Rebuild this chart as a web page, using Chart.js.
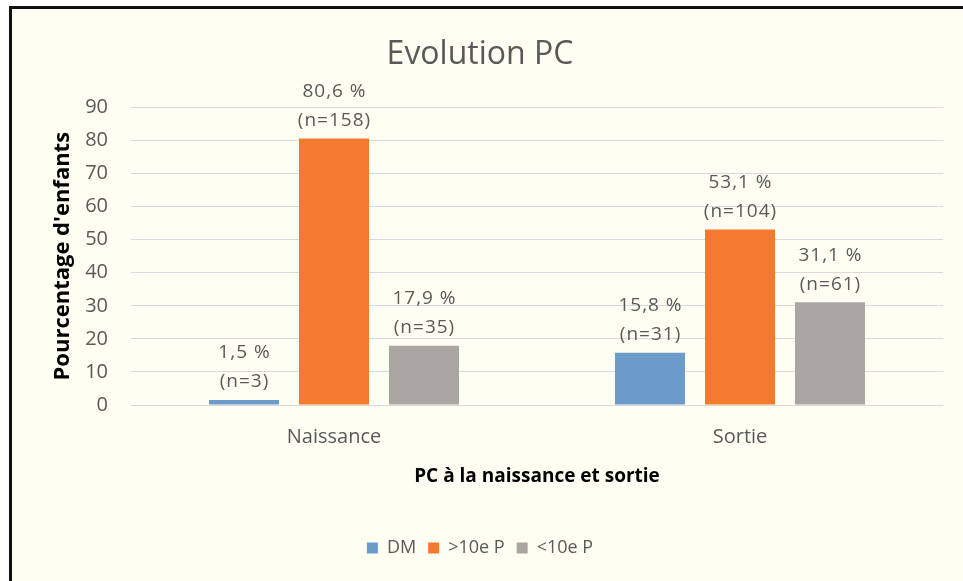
<!DOCTYPE html>
<html><head><meta charset="utf-8">
<script src="https://cdn.jsdelivr.net/npm/chart.js@4"></script>
<style>
html,body{margin:0;padding:0;background:#fff;overflow:hidden;width:963px;height:581px}
#frame{position:absolute;left:9px;top:6px;width:1000px;height:620px;border-top:3px solid #111;border-left:3px solid #111;background:#FFFEF3}
#wrap{position:absolute;left:5px;top:0;width:926px;height:572px}
</style></head><body>
<div id="frame"><div id="wrap"><canvas id="c"></canvas></div></div>
<script>
const categories = ['Naissance', 'Sortie'];
const seriesNames = ['DM', '>10e P', '<10e P'];
const dmValues = [1.5, 15.8];
const supValues = [80.6, 53.1];
const infValues = [17.9, 31.1];
const dmCounts = [3, 31];
const supCounts = [158, 104];
const infCounts = [35, 61];
const yTicks = [0, 10, 20, 30, 40, 50, 60, 70, 80, 90];

const colors = ['#6A9BC9', '#F47A30', '#AAA6A2'];
const seriesValues = [dmValues, supValues, infValues];
const seriesCounts = [dmCounts, supCounts, infCounts];
const TXT = '#595959';

const labelPlugin = {
  id: 'barLabels',
  afterDatasetsDraw(chart) {
    const ctx = chart.ctx;
    ctx.save();
    ctx.font = '19px "Open Sans"';
    ctx.fillStyle = TXT;
    ctx.textAlign = 'center';
    ctx.textBaseline = 'middle';
    try { ctx.letterSpacing = '1px'; } catch (e) {}
    chart.data.datasets.forEach((ds, di) => {
      const meta = chart.getDatasetMeta(di);
      meta.data.forEach((bar, i) => {
        const v = ds.data[i];
        const l1 = v.toFixed(1).replace('.', ',') + ' %';
        const l2 = '(n=' + seriesCounts[di][i] + ')';
        ctx.fillText(l2, bar.x + 0.5, bar.y - 18);
        ctx.fillText(l1, bar.x + 0.5, bar.y - 47);
      });
    });
    ctx.restore();
  }
};

new Chart(document.getElementById('c'), {
  type: 'bar',
  data: {
    labels: categories,
    datasets: seriesNames.map((n, i) => ({
      label: n,
      data: seriesValues[i],
      backgroundColor: colors[i],
      borderWidth: 0,
      categoryPercentage: 0.665,
      barPercentage: 0.778
    }))
  },
  plugins: [labelPlugin],
  options: {
    responsive: true,
    maintainAspectRatio: false,
    animation: false,
    layout: { padding: { left: 0, right: 0, top: 0, bottom: 14 } },
    plugins: {
      title: {
        display: true, text: 'Evolution PC', color: TXT,
        font: { family: 'Open Sans', size: 32, weight: 'normal' },
        padding: { top: 27, bottom: 33 }
      },
      legend: {
        position: 'bottom',
        labels: {
          boxWidth: 11, boxHeight: 11, padding: 12, color: TXT,
          font: { family: 'Open Sans', size: 18 }
        }
      },
      tooltip: { enabled: false }
    },
    scales: {
      x: {
        grid: { display: false },
        border: { display: false },
        afterFit(scale) { scale.height = 122; },
        ticks: { color: TXT, font: { family: 'Open Sans', size: 20 }, padding: 12 },
        title: {
          display: true, text: 'PC à la naissance et sortie', color: '#000',
          font: { family: 'Open Sans', size: 19, weight: 'bold' },
          padding: { top: 10, bottom: 39 }
        }
      },
      y: {
        min: 0, max: 90,
        afterBuildTicks(scale) { scale.ticks = yTicks.map(v => ({ value: v })); },
        afterFit(scale) { scale.width = 114; },
        grid: { color: '#D9D9D9', drawTicks: false },
        border: { display: false },
        ticks: { color: TXT, font: { family: 'Open Sans', size: 20 }, padding: 23 },
        title: {
          display: true, text: "Pourcentage d'enfants", color: '#000',
          font: { family: 'Open Sans', size: 22, weight: 'bold' },
          padding: { top: 33, bottom: 10 }
        }
      }
    }
  }
});
</script>
</body></html>
